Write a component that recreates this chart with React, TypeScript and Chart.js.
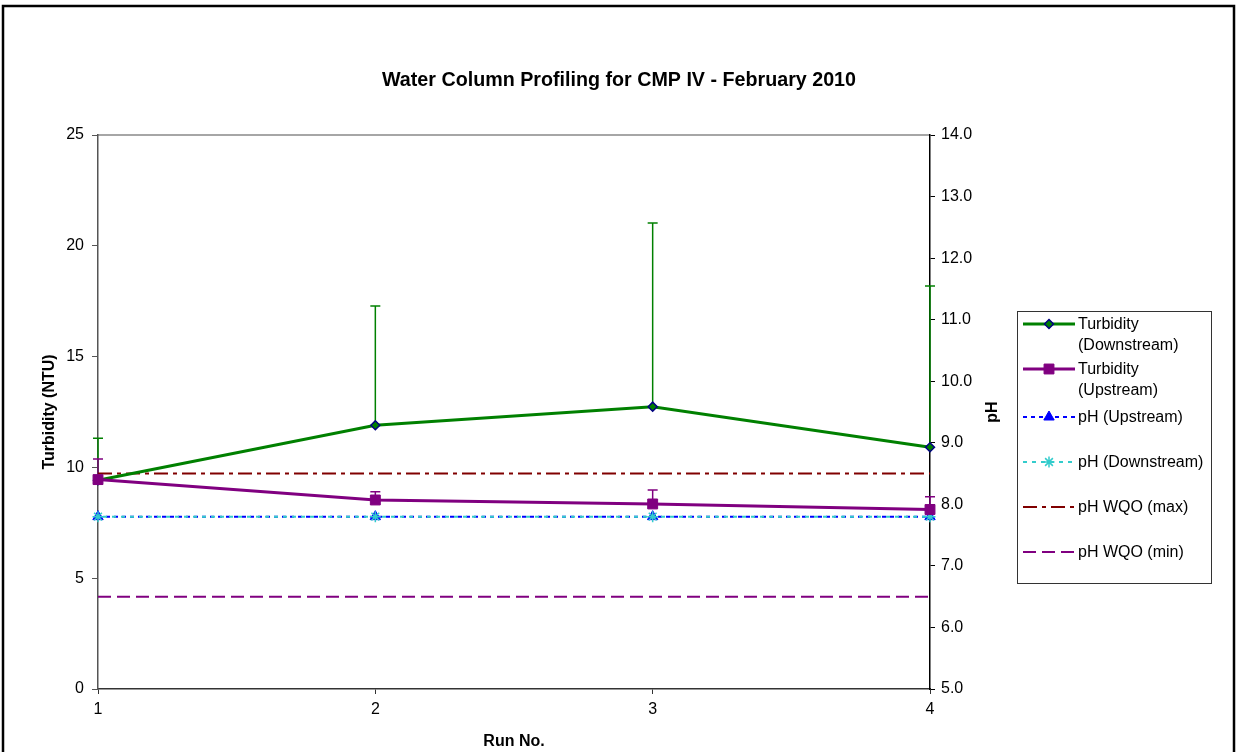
import React, { useEffect, useRef } from 'react';
import { Chart, registerables } from 'chart.js';

Chart.register(...registerables);

const FONT = "'Liberation Sans', Arial, Helvetica, sans-serif";

const chartTitle = 'Water Column Profiling for CMP IV - February 2010';
const xTitle = 'Run No.';
const yTitle = 'Turbidity (NTU)';
const y1Title = 'pH';

const runs = [1, 2, 3, 4];
const turbDown = [9.42, 11.9, 12.74, 10.91];
const turbDownTop = [11.31, 17.28, 21.03, 18.19];
const turbUp = [9.45, 8.53, 8.35, 8.1];
const turbUpTop = [10.38, 8.9, 8.98, 8.68];
const phUp = [7.8, 7.8, 7.8, 7.8];
const phDown = [7.8, 7.8, 7.8, 7.8];
const wqoRuns = [1, 4];
const phMax = [8.5, 8.5];
const phMin = [6.5, 6.5];

const leftRange = [0, 25, 5];
const rightRange = [5, 14, 1];

const legendLabels = [
  ['Turbidity', '(Downstream)'],
  ['Turbidity', '(Upstream)'],
  ['pH (Upstream)'],
  ['pH (Downstream)'],
  ['pH WQO (max)'],
  ['pH WQO (min)'],
];

const pts = (xs: number[], ys: number[]) => xs.map((x, i) => ({ x, y: ys[i] }));

export default function App() {
  const ref = useRef<HTMLCanvasElement | null>(null);

  useEffect(() => {
    document.body.style.margin = '0';
    const canvas = ref.current!;

    const errorBars = {
      id: 'errorBars',
      beforeDatasetsDraw(chart: any) {
        const { ctx } = chart;
        const xs = chart.scales.x;
        const ys = chart.scales.y;
        const draw = (vals: number[], tops: number[], color: string) => {
          ctx.save();
          ctx.strokeStyle = color;
          ctx.lineWidth = 1.5;
          vals.forEach((v, i) => {
            const px = xs.getPixelForValue(runs[i]);
            const py = ys.getPixelForValue(v);
            const pt = ys.getPixelForValue(tops[i]);
            ctx.beginPath();
            ctx.moveTo(px, py);
            ctx.lineTo(px, pt);
            ctx.moveTo(px - 5, pt);
            ctx.lineTo(px + 5, pt);
            ctx.stroke();
          });
          ctx.restore();
        };
        draw(turbDown, turbDownTop, '#008000');
        draw(turbUp, turbUpTop, '#800080');
      },
    };

    function drawPt(ctx: any, style: string, r: number, x: number, y: number) {
      ctx.beginPath();
      const s = Math.SQRT1_2 * r;
      if (style === 'rect') {
        ctx.rect(x - s, y - s, 2 * s, 2 * s);
        ctx.fill();
        ctx.stroke();
      } else if (style === 'rectRot') {
        ctx.moveTo(x, y - r);
        ctx.lineTo(x + r, y);
        ctx.lineTo(x, y + r);
        ctx.lineTo(x - r, y);
        ctx.closePath();
        ctx.fill();
        ctx.stroke();
      } else if (style === 'triangle') {
        const a = (2 * Math.PI) / 3;
        const rot = -Math.PI / 2;
        ctx.moveTo(x + Math.cos(rot) * r, y + Math.sin(rot) * r);
        ctx.lineTo(x + Math.cos(rot + a) * r, y + Math.sin(rot + a) * r);
        ctx.lineTo(x + Math.cos(rot + 2 * a) * r, y + Math.sin(rot + 2 * a) * r);
        ctx.closePath();
        ctx.fill();
        ctx.stroke();
      } else if (style === 'star') {
        ctx.moveTo(x - r, y);
        ctx.lineTo(x + r, y);
        ctx.moveTo(x, y - r);
        ctx.lineTo(x, y + r);
        ctx.moveTo(x - s, y - s);
        ctx.lineTo(x + s, y + s);
        ctx.moveTo(x - s, y + s);
        ctx.lineTo(x + s, y - s);
        ctx.stroke();
      }
    }

    const decor = {
      id: 'decor',
      beforeDraw(chart: any) {
        const { ctx, chartArea } = chart;
        ctx.save();
        ctx.fillStyle = '#fff';
        ctx.fillRect(0, 0, chart.width, chart.height);
        ctx.strokeStyle = '#888';
        ctx.lineWidth = 1.5;
        ctx.beginPath();
        ctx.moveTo(chartArea.left, chartArea.top);
        ctx.lineTo(chartArea.right, chartArea.top);
        ctx.stroke();
        ctx.restore();
      },
      afterDraw(chart: any) {
        const { ctx, chartArea } = chart;
        ctx.save();
        ctx.strokeStyle = '#000';
        ctx.lineWidth = 2.5;
        ctx.strokeRect(3, 6, 1231, 800);
        ctx.fillStyle = '#000';
        ctx.textAlign = 'center';
        ctx.textBaseline = 'middle';
        ctx.font = `bold 19.7px ${FONT}`;
        ctx.fillText(chartTitle, 619, 81);
        ctx.font = `bold 16px ${FONT}`;
        ctx.fillText(xTitle, (chartArea.left + chartArea.right) / 2, 742);
        ctx.save();
        ctx.translate(50, (chartArea.top + chartArea.bottom) / 2);
        ctx.rotate(-Math.PI / 2);
        ctx.fillText(yTitle, 0, 0);
        ctx.restore();
        ctx.save();
        ctx.translate(993, (chartArea.top + chartArea.bottom) / 2);
        ctx.rotate(-Math.PI / 2);
        ctx.fillText(y1Title, 0, 0);
        ctx.restore();

        ctx.strokeStyle = '#333';
        ctx.lineWidth = 1;
        ctx.strokeRect(1017.5, 311.5, 194, 272);
        const rowY = [324, 369, 417, 462, 507, 552];
        const x0 = 1023, x1 = 1075, xm = 1049;
        ctx.font = `16px ${FONT}`;
        ctx.textAlign = 'left';
        legendLabels.forEach((lines, i) => {
          const ds = chart.data.datasets[i];
          const y = rowY[i];
          ctx.save();
          ctx.strokeStyle = ds.borderColor;
          ctx.lineWidth = ds.borderWidth;
          ctx.setLineDash(ds.borderDash || []);
          ctx.beginPath();
          ctx.moveTo(x0, y);
          ctx.lineTo(x1, y);
          ctx.stroke();
          ctx.setLineDash([]);
          if (ds.pointRadius > 0) {
            ctx.fillStyle = ds.pointBackgroundColor;
            ctx.strokeStyle = ds.pointBorderColor;
            ctx.lineWidth = ds.pointBorderWidth;
            drawPt(ctx, ds.pointStyle, ds.pointRadius, xm, y);
          }
          ctx.restore();
          ctx.fillStyle = '#000';
          lines.forEach((t, k) => ctx.fillText(t, 1078, y + 1 + k * 20.5));
        });
        ctx.restore();
      },
    };

    const tickFont = { family: FONT, size: 16 };

    const chart = new Chart(canvas, {
      type: 'line',
      data: {
        datasets: [
          {
            label: 'Turbidity (Downstream)',
            data: pts(runs, turbDown),
            yAxisID: 'y',
            borderColor: '#008000',
            borderWidth: 3,
            pointStyle: 'rectRot',
            pointRadius: 4.5,
            pointBackgroundColor: '#008000',
            pointBorderColor: '#000080',
            pointBorderWidth: 1.5,
            clip: false,
            order: 1,
          },
          {
            label: 'Turbidity (Upstream)',
            data: pts(runs, turbUp),
            yAxisID: 'y',
            borderColor: '#800080',
            borderWidth: 3,
            pointStyle: 'rect',
            pointRadius: 7,
            pointBackgroundColor: '#800080',
            pointBorderColor: '#800080',
            pointBorderWidth: 1,
            clip: false,
            order: 0,
          },
          {
            label: 'pH (Upstream)',
            data: pts(runs, phUp),
            yAxisID: 'y1',
            borderColor: '#0000FF',
            borderWidth: 2,
            borderDash: [4, 4],
            pointStyle: 'triangle',
            pointRadius: 6,
            pointBackgroundColor: '#0000FF',
            pointBorderColor: '#0000FF',
            pointBorderWidth: 1,
            clip: false,
            order: 3,
          },
          {
            label: 'pH (Downstream)',
            data: pts(runs, phDown),
            yAxisID: 'y1',
            borderColor: '#33CCCC',
            borderWidth: 2,
            borderDash: [4, 5],
            borderDashOffset: 4,
            pointStyle: 'star',
            pointRadius: 5.5,
            pointBackgroundColor: '#33CCCC',
            pointBorderColor: '#33CCCC',
            pointBorderWidth: 1.5,
            clip: false,
            order: 2,
          },
          {
            label: 'pH WQO (max)',
            data: pts(wqoRuns, phMax),
            yAxisID: 'y1',
            borderColor: '#800000',
            borderWidth: 2,
            borderDash: [14, 5, 4, 5],
            pointRadius: 0,
            clip: false,
            order: 4,
          },
          {
            label: 'pH WQO (min)',
            data: pts(wqoRuns, phMin),
            yAxisID: 'y1',
            borderColor: '#800080',
            borderWidth: 2,
            borderDash: [13, 6],
            pointRadius: 0,
            clip: false,
            order: 5,
          },
        ],
      },
      options: {
        animation: false,
        responsive: false,
        layout: { padding: { top: 135, left: 0, right: 0, bottom: 0 } },
        plugins: {
          legend: { display: false },
          title: { display: false },
          tooltip: { enabled: false },
        },
        elements: { line: { tension: 0 } },
        scales: {
          x: {
            type: 'linear',
            min: runs[0],
            max: runs[runs.length - 1],
            ticks: { stepSize: 1, font: tickFont, color: '#000', padding: 6 },
            grid: { display: true, drawOnChartArea: false, drawTicks: true, tickLength: 5, color: '#333' },
            border: { color: '#333', width: 1.5 },
            afterFit: (s: any) => { s.height = 752 - 689; },
          },
          y: {
            position: 'left',
            min: leftRange[0],
            max: leftRange[1],
            ticks: { stepSize: leftRange[2], font: tickFont, color: '#000', padding: 8 },
            grid: { display: true, drawOnChartArea: false, drawTicks: true, tickLength: 6, color: '#555' },
            border: { color: '#555', width: 1.5 },
            afterFit: (s: any) => { s.width = 98; },
          },
          y1: {
            position: 'right',
            min: rightRange[0],
            max: rightRange[1],
            ticks: {
              stepSize: rightRange[2],
              font: tickFont,
              color: '#000',
              padding: 6,
              callback: (v: any) => Number(v).toFixed(1),
            },
            grid: { display: true, drawOnChartArea: false, drawTicks: true, tickLength: 5, color: '#000' },
            border: { color: '#000', width: 1.5 },
            afterFit: (s: any) => { s.width = 1238 - 930; },
          },
        },
      } as any,
      plugins: [decor, errorBars],
    });

    return () => chart.destroy();
  }, []);

  return (
    <div style={{ width: 1238, height: 752 }}>
      <canvas ref={ref} width={1238} height={752} style={{ display: 'block', width: 1238, height: 752 }} />
    </div>
  );
}
